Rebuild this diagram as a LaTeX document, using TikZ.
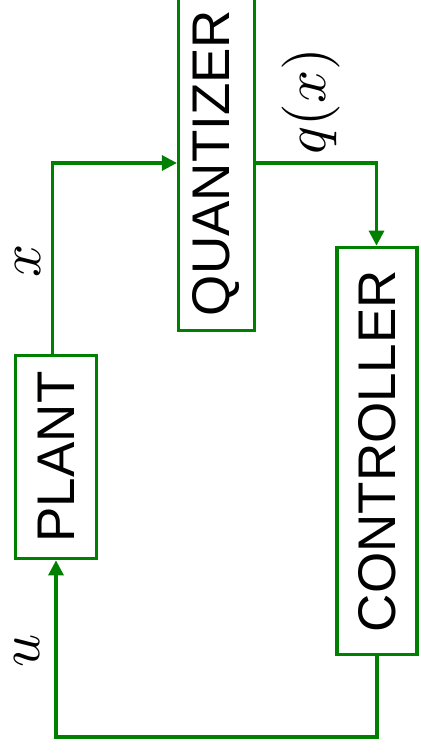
\documentclass[tikz,border=0pt]{standalone}
\usepackage{fontspec}
\usepackage{graphicx}
\newfontfamily\lsans{Liberation Sans}
\usetikzlibrary{arrows.meta}
\definecolor{lg}{RGB}{0,128,0}
\begin{document}
\begin{tikzpicture}[x=1pt,y=-1pt,
  blk/.style={draw=lg,line width=3.2pt,inner sep=0pt,fill=white},
  wire/.style={draw=lg,line width=3.2pt},
  arr/.style={wire,-{Triangle[length=15pt,width=15pt]}},
  lbl/.style={inner sep=0pt}]
\useasboundingbox (0,0) rectangle (420,754);
\node[blk,minimum width=81.5pt,minimum height=203.5pt] (plant) at (56,457)
  {\rotatebox{90}{\lsans\fontsize{53}{60}\selectfont PLANT}};
\node[blk,minimum width=76pt,minimum height=335pt] (quant) at (216.5,163)
  {\rotatebox{90}{\lsans\fontsize{53}{60}\selectfont QUANTIZER}};
\node[blk,minimum width=80pt,minimum height=407.5pt] (ctrl) at (377,451)
  {\rotatebox{90}{\lsans\fontsize{53}{60}\selectfont CONTROLLER}};
\coordinate (xc) at (52.5,163);
\coordinate (qc) at (376.5,163);
\coordinate (bc) at (377,737);
\coordinate (bl) at (56,737);
\draw[arr] (xc |- plant.north) -- (xc) -- (xc -| quant.west);
\draw[arr] (qc -| quant.east) -- (qc) -- (qc |- ctrl.north);
\draw[arr] (ctrl.south) -- (bc) -- (bl) -- (plant.south);
\node[lbl] (lx) at (28,261) {\rotatebox{90}{\scalebox{5.8}{$x$}}};
\node[lbl] (lu) at (27,651) {\rotatebox{90}{\scalebox{5.8}{$u$}}};
\node[lbl] (lq) at (311,101) {\rotatebox{90}{\scalebox{5.8}{$q(x)$}}};
\end{tikzpicture}
\end{document}
